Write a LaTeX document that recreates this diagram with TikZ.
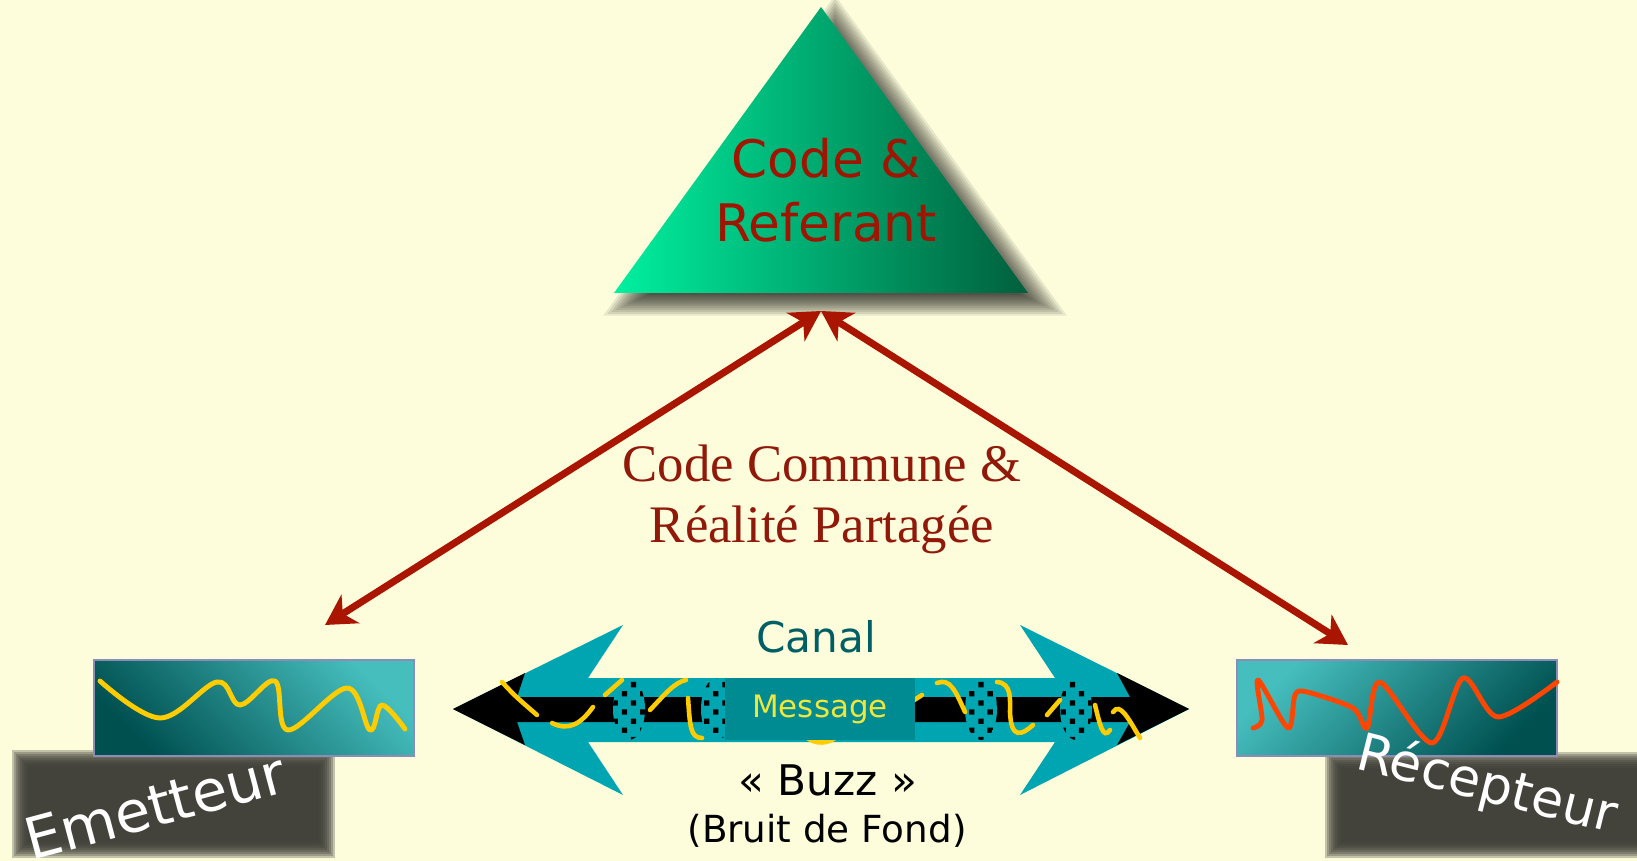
\documentclass[tikz,border=0pt]{standalone}
\usepackage{fontspec}
\setmainfont{DejaVu Sans}
\newfontfamily\serifface{Liberation Serif}
\usetikzlibrary{arrows.meta,positioning,patterns}
\definecolor{bgcream}{RGB}{253,253,220}
\definecolor{trimint}{RGB}{0,240,160}
\definecolor{trimid}{RGB}{0,185,125}
\definecolor{tridark}{RGB}{0,95,60}
\definecolor{refred}{RGB}{160,20,0}
\definecolor{sharedred}{RGB}{145,25,10}
\definecolor{linkred}{RGB}{170,21,0}
\definecolor{emitlight}{RGB}{70,190,190}
\definecolor{emitdark}{RGB}{0,80,80}
\definecolor{boxedge}{RGB}{140,140,185}
\definecolor{taggray}{RGB}{62,61,54}
\definecolor{wavegold}{RGB}{255,204,0}
\definecolor{waveorange}{RGB}{255,70,0}
\definecolor{chancyan}{RGB}{0,165,178}
\definecolor{msgteal}{RGB}{0,138,146}
\definecolor{msgyellow}{RGB}{240,230,60}
\definecolor{canalteal}{RGB}{0,95,100}
\pgfdeclarepatternformonly{noisedots}{\pgfqpoint{-0.1pt}{-0.1pt}}{\pgfqpoint{5.3pt}{5.3pt}}{\pgfqpoint{5.2pt}{5.2pt}}{%
  \pgfpathrectangle{\pgfqpoint{0pt}{0pt}}{\pgfqpoint{1.5pt}{1.5pt}}%
  \pgfpathrectangle{\pgfqpoint{2.6pt}{2.6pt}}{\pgfqpoint{1.5pt}{1.5pt}}%
  \pgfusepath{fill}}

\begin{document}
\begin{tikzpicture}[x=0.01cm, y=-0.01cm,
    sigbox/.style={rectangle, draw=boxedge, line width=0.6pt, inner sep=0pt,
                   minimum width=3.2cm, minimum height=0.96cm},
    tagtxt/.style={text=white, inner sep=0pt},
    link/.style={draw=linkred, line width=2pt,
                 {Stealth[length=8.5pt, width=9.5pt, inset=2.5pt]}-{Stealth[length=8.5pt, width=9.5pt, inset=2.5pt]}},
    wave/.style={line width=1.4pt, line cap=round, line join=round},
    noise/.style={draw=wavegold, line width=1.3pt, line cap=round},
    blob/.style={fill=chancyan, postaction={pattern=noisedots, pattern color=black}}
  ]
    \useasboundingbox (0,0) rectangle (1637,861);
    \fill[bgcream] (0,0) rectangle (1637,861);

    % Triangle: code and referent (soft shadow first)
    \begin{scope}[shift={(835,209)}]
      \foreach \s in {0.90,0.92,...,1.125}
        \fill[black, opacity=0.085, scale=\s] (0,-190.7) -- (207,95.3) -- (-207,95.3) -- cycle;
    \end{scope}
    \shade[left color=trimint, middle color=trimid, right color=tridark]
      (821,7) -- (1028,293) -- (614,293) -- cycle;
    \node[font=\fontsize{14.7}{18.2}\selectfont, text=refred, align=center, inner sep=0pt]
      (ref) at (826,190) {Code \&\\Referant};

    % Soft dark tags
    \foreach \d in {0,2,...,16} {
      \fill[taggray, opacity=0.3] (12+\d,750+\d) rectangle (335-\d,858-\d);
      \fill[taggray, opacity=0.3] (1325+\d,752+\d) rectangle (1660-\d,858-\d);
    }

    % Emitter and receiver
    \node[sigbox, top color=emitlight, bottom color=emitdark, shading angle=-45] (emit) at (254,708) {};
    \node[sigbox, top color=emitlight, bottom color=emitdark, shading angle=45] (recv) at (1397,708) {};
    \draw[wave, wavegold] plot[smooth, tension=0.6] coordinates {(100,681) (160,718) (217,682) (240,705)
      (275,681) (288,730) (347,688) (370,730) (382,705) (405,729)};
    \draw[wave, waveorange] plot[smooth, tension=0.5] coordinates {(1253,728) (1262,720) (1258,680)
      (1288,728) (1295,695) (1307,692) (1353,708) (1367,728) (1380,682) (1432,743) (1463,678)
      (1498,717) (1557,682)};

    \node[tagtxt, rotate=15, font=\fontsize{16.3}{19}\selectfont] (emittxt) at (155,806) {Emetteur};
    \node[tagtxt, rotate=-14, font=\fontsize{14.8}{17}\selectfont] (recvtxt) at (1487,786) {Récepteur};

    % Shared code and reality
    \coordinate (meet) at (821,311);
    \coordinate (emitend) at (325,625);
    \coordinate (recvend) at (1348,645);
    \draw[link] (meet) -- (emitend);
    \draw[link] (meet) -- (recvend);
    \node[font=\serifface\fontsize{15}{17.4}\selectfont, text=sharedred, align=center, inner sep=0pt]
      (shared) at (822,499) {Code Commune \&\\Réalité Partagée};

    % Channel
    \fill[chancyan] (453,709) -- (623,625) -- (588,678) -- (1055,678) -- (1020,625) -- (1189,709)
      -- (1020,795) -- (1055,742) -- (588,742) -- (623,795) -- cycle;
    \fill[black] (453,709) -- (525,673) -- (517,697) -- (1130,697) -- (1117,673) -- (1189,709)
      -- (1117,745) -- (1130,722) -- (517,722) -- (525,745) -- cycle;
    \path[blob] (629,709) ellipse [x radius=0.16cm, y radius=0.31cm];
    \path[blob] (717,709) ellipse [x radius=0.16cm, y radius=0.31cm];
    \path[blob] (981,709) ellipse [x radius=0.16cm, y radius=0.31cm];
    \path[blob] (1076,709) ellipse [x radius=0.16cm, y radius=0.31cm];

    % Noise
    \draw[noise] (502,682) .. controls (515,696) .. (537,715);
    \draw[noise] (552,723) .. controls (570,732) and (582,722) .. (593,707);
    \draw[noise] (605,695) -- (622,680);
    \draw[noise] (650,710) .. controls (665,694) and (675,682) .. (686,680);
    \draw[noise] (688,698) .. controls (690,725) and (690,738) .. (702,738);
    \draw[noise] (800,730) .. controls (810,745) and (825,745) .. (835,738);
    \draw[noise] (905,706) -- (922,695);
    \draw[noise] (937,683) .. controls (950,678) and (955,690) .. (965,712);
    \draw[noise] (997,682) .. controls (1012,683) and (1010,700) .. (1010,712)
      .. controls (1011,740) and (1022,735) .. (1033,725);
    \draw[noise] (1047,715) -- (1060,700);
    \draw[noise] (1095,705) .. controls (1100,725) and (1103,740) .. (1110,730);
    \draw[noise] (1113,712) .. controls (1120,702) and (1128,718) .. (1140,738);

    \node[fill=msgteal, minimum width=1.9cm, minimum height=0.62cm, inner sep=0pt,
          text=msgyellow, font=\fontsize{8.8}{10}\selectfont] (msg) at (820,709) {Message};

    \node[font=\fontsize{12}{14}\selectfont, text=canalteal, anchor=base, inner sep=0pt] (canal) at (816,652) {Canal};
    \node[font=\fontsize{12}{14}\selectfont, anchor=base, inner sep=0pt] (buzz) at (828,795) {« Buzz »};
    \node[font=\fontsize{10.6}{12}\selectfont, anchor=base, inner sep=0pt] (bruit) at (827,842) {(Bruit de Fond)};
  \end{tikzpicture}
\end{document}
